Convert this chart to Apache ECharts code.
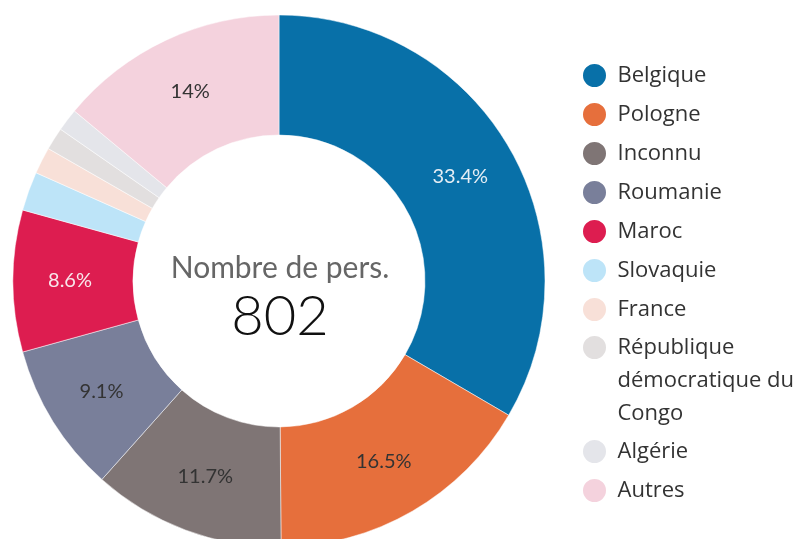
<!DOCTYPE html>
<html>
<head>
<meta charset="utf-8">
<script src="https://cdn.jsdelivr.net/npm/echarts@6/dist/echarts.min.js"></script>
<style>
  html, body { margin: 0; padding: 0; background: #fff; }
  #chart { width: 810px; height: 539px; }
</style>
</head>
<body>
<div id="chart"></div>
<script>
// data (802 people in total)
const countries = ['Belgique', 'Pologne', 'Inconnu', 'Roumanie', 'Maroc', 'Slovaquie', 'France',
  'République démocratique du Congo', 'Algérie', 'Autres']
const counts = [268, 132, 94, 73, 69, 19, 13, 11, 11, 112]
const centerTitle = 'Nombre de pers.'

const colors = ['#0870a8', '#e66f3c', '#7f7575', '#797f9a', '#dd1d50', '#bde4f8', '#f8e0d8',
  '#e2dfdf', '#e4e5ea', '#f4d2dd']
const labelColors = ['#e4edf4', '#333', '#333', '#333', '#f8e6ea', '#333', '#333', '#333', '#333', '#333']

const total = counts.reduce((a, b) => a + b, 0)
const font = 'Lato, "Open Sans", sans-serif'
const legendFont = '"Open Sans", Lato, sans-serif'

function pct (v) {
  return (v / total * 100).toFixed(1).replace(/\.0$/, '')
}

let chart = echarts.init(document.getElementById('chart'))

const legendBase = {
  orient: 'vertical',
  left: 581,
  padding: 0,
  itemGap: 6,
  itemWidth: 36,
  itemHeight: 25,
  icon: 'circle',
  selectedMode: false,
  textStyle: { fontFamily: legendFont, fontSize: 22, color: '#333', lineHeight: 33 }
}

chart.setOption({
  animation: false,
  color: colors,
  title: [
    {
      text: centerTitle,
      left: 275,
      top: 248,
      textAlign: 'center',
      textStyle: { fontFamily: font, fontSize: 30, fontWeight: 'normal', color: '#666' }
    },
    {
      text: String(total),
      left: 275,
      top: 284,
      textAlign: 'center',
      textStyle: { fontFamily: font, fontSize: 56, fontWeight: 300, color: '#111' }
    }
  ],
  legend: [
    Object.assign({}, legendBase, { top: 59, data: countries.slice(0, 7) }),
    Object.assign({}, legendBase, {
      top: 265,
      data: [countries[7]],
      // two empty lines keep the first line level with the icon
      formatter: () => '\n\nRépublique\ndémocratique du\nCongo'
    }),
    Object.assign({}, legendBase, { top: 435, data: countries.slice(8) })
  ],
  series: [{
    type: 'pie',
    center: [279, 281],
    radius: [146, 266],
    startAngle: 90,
    silent: true,
    itemStyle: { borderColor: '#fff', borderWidth: 0.5 },
    label: {
      position: 'inside',
      fontFamily: font,
      fontSize: 20,
      formatter: p => (p.value / total >= 0.05 ? pct(p.value) + '%' : '')
    },
    labelLine: { show: false },
    data: countries.map((name, i) => ({
      name: name,
      value: counts[i],
      label: { color: labelColors[i] }
    }))
  }]
})
</script>
</body>
</html>
